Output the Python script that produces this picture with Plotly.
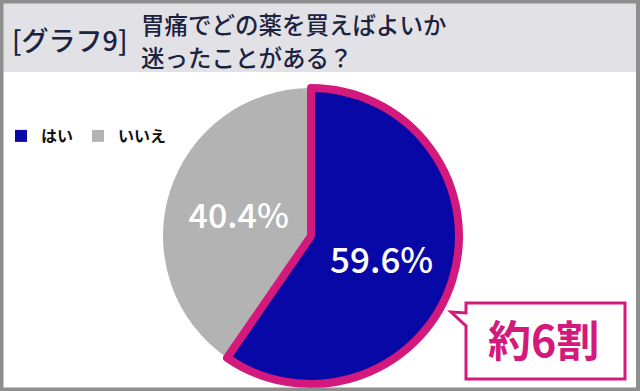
import plotly.graph_objects as go

W, H = 640, 391

labels = ["はい", "いいえ"]
values = [59.6, 40.4]
colors = ["#0808A6", "#B3B3B3"]
highlight = "#D4197C"

title_tag = "[グラフ9]"
title_lines = ["胃痛でどの薬を買えばよいか", "迷ったことがある？"]
callout = "約6割"

FONT = "Noto Sans CJK JP"


def px(x):
    return x / W


def py(y):
    return 1 - y / H


cx, cy, r = 311, 236, 148
domain = dict(x=[px(cx - r), px(cx + r)], y=[py(cy + r), py(cy - r)])

fig = go.Figure()

# base pie (legend, gray label)
fig.add_trace(go.Pie(
    labels=labels, values=values, sort=False, direction="clockwise", rotation=0,
    marker=dict(colors=colors, line=dict(width=0)),
    texttemplate=["", "%{percent:.1%}"],
    textposition="inside", insidetextorientation="horizontal",
    textfont=dict(family=FONT, size=34, color="white", weight=500),
    domain=domain, hoverinfo="label+percent", showlegend=True,
))

# highlight overlay for the first slice
fig.add_trace(go.Pie(
    labels=labels, values=values, sort=False, direction="clockwise", rotation=0,
    marker=dict(colors=[colors[0], "rgba(0,0,0,0)"],
                line=dict(color=[highlight, "rgba(0,0,0,0)"], width=[8, 0])),
    texttemplate=["%{percent:.1%}", ""],
    textposition="inside", insidetextorientation="horizontal",
    textfont=dict(family=FONT, size=35, color="white", weight=500),
    domain=domain, hoverinfo="skip", showlegend=False,
))

shapes = [
    # header band
    dict(type="rect", xref="paper", yref="paper", x0=0, x1=1, y0=py(72), y1=1,
         fillcolor="#E2E2E6", line=dict(width=0), layer="below"),
    # outer frame
    dict(type="rect", xref="paper", yref="paper", x0=px(1.5), x1=px(W - 2), y0=py(H - 1.5), y1=py(1.5),
         fillcolor="rgba(0,0,0,0)", line=dict(color="#8E8E8E", width=4), layer="above"),
]

# callout box with tail
pts = [(466, 303), (625, 303), (625, 379), (466, 379), (466, 326), (451, 312), (466, 313)]
path = "M " + " L ".join(f"{px(x):.5f},{py(y):.5f}" for x, y in pts) + " Z"
shapes.append(dict(type="path", xref="paper", yref="paper", path=path,
                   fillcolor="white", line=dict(color=highlight, width=3), layer="above"))

annotations = [
    dict(text=title_tag, xref="paper", yref="paper", x=px(10), y=py(40),
         xanchor="left", yanchor="middle", showarrow=False,
         font=dict(family=FONT, size=27, color="#1C2340", weight=500)),
    dict(text=title_lines[0], xref="paper", yref="paper", x=px(139), y=py(24),
         xanchor="left", yanchor="middle", showarrow=False,
         font=dict(family=FONT, size=23.5, color="#1C2340", weight=500)),
    dict(text=title_lines[1], xref="paper", yref="paper", x=px(139), y=py(57),
         xanchor="left", yanchor="middle", showarrow=False,
         font=dict(family=FONT, size=23.5, color="#1C2340", weight=500)),
    dict(text=callout, xref="paper", yref="paper", x=px(543), y=py(338),
         xanchor="center", yanchor="middle", showarrow=False,
         font=dict(family=FONT, size=43, color=highlight, weight="bold")),
]

fig.update_layout(
    width=W, height=H,
    margin=dict(l=0, r=0, t=0, b=0),
    paper_bgcolor="white", plot_bgcolor="white",
    shapes=shapes, annotations=annotations,
    legend=dict(orientation="h", x=px(1), y=py(119), xanchor="left", yanchor="top",
                font=dict(family=FONT, size=16, color="#111111", weight="bold"),
                bgcolor="rgba(0,0,0,0)", itemwidth=30, tracegroupgap=0),
)

fig.write_html("out.html")
